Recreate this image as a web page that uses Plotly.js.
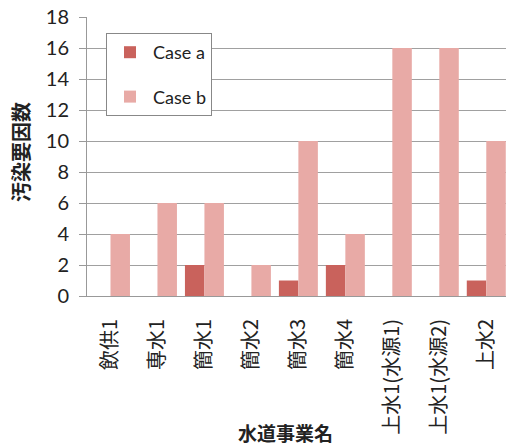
<!DOCTYPE html>
<html>
<head>
<meta charset="utf-8">
<script src="https://cdn.plot.ly/plotly-3.0.1.min.js"></script>
<style>html,body{margin:0;padding:0;background:#fff;}#chart{width:506px;height:448px;}</style>
</head>
<body>
<div id="chart"></div>
<script>
const categories = ["飲供1", "専水1", "簡水1", "簡水2", "簡水3", "簡水4", "上水1(水源1)", "上水1(水源2)", "上水2"];
const caseA = [0, 0, 2, 0, 1, 2, 0, 0, 1];
const caseB = [4, 6, 6, 2, 10, 4, 16, 16, 10];
const yTicks = [0, 2, 4, 6, 8, 10, 12, 14, 16, 18];
const xTitle = '水道事業名';
const yTitle = '汚染要因数';

const jp = '"Noto Sans CJK JP", sans-serif';
const lat = 'Lato, "Open Sans", sans-serif';

const traces = [
  {type: 'bar', name: 'Case a', legendgroup: 'a', x: categories, y: caseA, marker: {color: '#c9625c'}},
  {type: 'bar', name: 'Case b', legendgroup: 'b', x: categories, y: caseB, marker: {color: '#e8aaa6'}}
];

const layout = {
  width: 506, height: 448,
  margin: {l: 87, r: 0, t: 17, b: 152},
  paper_bgcolor: '#fff', plot_bgcolor: '#fff',
  barmode: 'group', bargap: 0.17, bargroupgap: 0,
  showlegend: true,
  legend: {
    xref: 'paper', yref: 'paper',
    x: (106 - 87) / 419, y: 1 - (33 - 17) / 279, xanchor: 'left', yanchor: 'top',
    bgcolor: '#fff', bordercolor: '#888', borderwidth: 1,
    font: {family: lat, size: 18, color: '#222'},
    traceorder: 'grouped', tracegroupgap: 18, itemwidth: 36
  },
  xaxis: {
    type: 'category', range: [-0.5, 8.42],
    tickangle: -90, ticks: '', showgrid: false,
    showline: true, linecolor: '#999', linewidth: 1,
    tickfont: {family: jp, size: 20, color: '#222'},
    ticklabelstandoff: 14,
    automargin: false
  },
  yaxis: {
    range: [0, 18], tickvals: yTicks, ticktext: yTicks.map(String),
    ticks: 'outside', ticklen: 7, tickcolor: '#999',
    showgrid: true, gridcolor: '#a0a0a0', gridwidth: 1,
    showline: true, linecolor: '#999', linewidth: 1,
    zeroline: false,
    tickfont: {family: lat, size: 20, color: '#222'},
    ticklabelstandoff: 6,
    automargin: false
  },
  annotations: [
    {text: '<b>' + xTitle + '</b>', xref: 'paper', yref: 'paper', x: (285 - 87) / 419, y: -(432 - 296) / 279,
     xanchor: 'center', yanchor: 'middle', showarrow: false, font: {family: jp, size: 19, color: '#222'}},
    {text: '<b>' + yTitle + '</b>', xref: 'paper', yref: 'paper', x: -(87 - 20) / 419, y: 1 - (152 - 17) / 279,
     xanchor: 'center', yanchor: 'middle', textangle: -90, showarrow: false, font: {family: jp, size: 20, color: '#222'}}
  ]
};

Plotly.newPlot('chart', traces, layout, {displayModeBar: false, staticPlot: true});
</script>
</body>
</html>
